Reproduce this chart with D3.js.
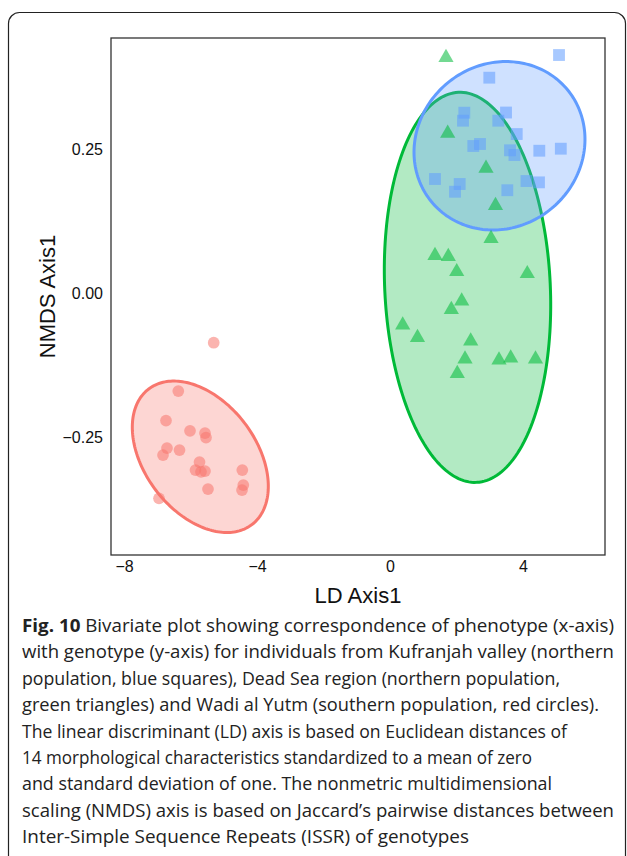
<!DOCTYPE html>
<html>
<head>
<meta charset="utf-8">
<script src="https://cdn.jsdelivr.net/npm/d3@7"></script>
<style>
  html, body { margin: 0; padding: 0; background: #fff; }
  svg { display: block; }
</style>
</head>
<body>
<svg id="chart" width="627" height="856"></svg>
<script>
// ---------- data ----------
const groups = ["Wadi al Yutm", "Dead Sea", "Kufranjah"];
const groupColors = ["#F8766D", "#00BA38", "#619CFF"];
const groupShapes = ["circle", "triangle", "square"];

const redX = [-5.302,-6.367,-6.737,-6.015,-5.564,-5.534,-6.707,-6.827,-6.331,-5.729,-5.850,-5.684,-5.564,-4.442,-4.412,-4.451,-5.474,-6.947];
const redY = [-0.0859,-0.1699,-0.2212,-0.2390,-0.2430,-0.2508,-0.2690,-0.2812,-0.2725,-0.2934,-0.3073,-0.3103,-0.3090,-0.3073,-0.3334,-0.3421,-0.3403,-0.3565];

const greenX = [1.684,1.735,2.887,3.173,3.038,1.353,1.753,2.006,4.129,2.156,1.844,0.382,0.827,2.427,2.256,3.278,3.630,4.376,2.024];
const greenY = [0.4101,0.2783,0.2174,0.1527,0.0953,0.0657,0.0640,0.0376,0.0341,-0.0134,-0.0282,-0.0551,-0.0769,-0.0830,-0.1143,-0.1160,-0.1125,-0.1143,-0.1395];

const blueX = [5.083,2.986,2.235,2.195,3.489,3.257,3.811,2.505,2.707,3.609,3.744,4.490,5.137,1.353,2.096,1.955,3.528,4.105,4.481];
const blueY = [0.4144,0.3750,0.3141,0.3002,0.3144,0.3002,0.2770,0.2562,0.2597,0.2487,0.2405,0.2480,0.2515,0.1988,0.1901,0.1767,0.1793,0.1953,0.1930];

// ellipses (data units): centre, first and second semi-axis vectors
const ellipseCX = [-5.705, 2.331, 3.293];
const ellipseCY = [-0.2842, 0.0104, 0.2566];
const ellipseU1 = [[1.552,-0.1179],[0.2749,-0.3391],[2.045,0.0974]];
const ellipseU2 = [[-1.332,-0.0586],[-2.487,-0.0068],[1.558,-0.1094]];

const xTicks = [-8, -4, 0, 4];
const yTicks = [-0.25, 0.00, 0.25];
const xTitle = "LD Axis1";
const yTitle = "NMDS Axis1";

const captionBold = "Fig. 10";
const captionLines = [
  " Bivariate plot showing correspondence of phenotype (x-axis)",
  "with genotype (y-axis) for individuals from Kufranjah valley (northern",
  "population, blue squares), Dead Sea region (northern population,",
  "green triangles) and Wadi al Yutm (southern population, red circles).",
  "The linear discriminant (LD) axis is based on Euclidean distances of",
  "14 morphological characteristics standardized to a mean of zero",
  "and standard deviation of one. The nonmetric multidimensional",
  "scaling (NMDS) axis is based on Jaccard\u2019s pairwise distances between",
  "Inter-Simple Sequence Repeats (ISSR) of genotypes"
];
const captionWidths = [592, 592, 538, 577, 545, 510, 530, 592, 447];

// ---------- layout ----------
const svg = d3.select("#chart");
const panel = { left: 111, right: 605, top: 38, bottom: 555 };

const x = d3.scaleLinear().domain([-8.391, 6.466]).range([panel.left, panel.right]);
const y = d3.scaleLinear().domain([-0.455, 0.444]).range([panel.bottom, panel.top]);

// outer frame
svg.append("rect")
  .attr("x", 8.5).attr("y", 12.5)
  .attr("width", 617).attr("height", 870)
  .attr("rx", 11).attr("ry", 11)
  .attr("fill", "none").attr("stroke", "#222").attr("stroke-width", 1.2);

const series = [
  { xs: redX, ys: redY },
  { xs: greenX, ys: greenY },
  { xs: blueX, ys: blueY }
];

// ellipses
const line = d3.line().curve(d3.curveLinearClosed);
const gEll = svg.append("g");
groups.forEach((g, i) => {
  const pts = d3.range(0, 200).map(k => {
    const t = k / 200 * 2 * Math.PI;
    const dx = ellipseCX[i] + ellipseU1[i][0] * Math.cos(t) + ellipseU2[i][0] * Math.sin(t);
    const dy = ellipseCY[i] + ellipseU1[i][1] * Math.cos(t) + ellipseU2[i][1] * Math.sin(t);
    return [x(dx), y(dy)];
  });
  gEll.append("path")
    .attr("d", line(pts))
    .attr("fill", groupColors[i]).attr("fill-opacity", 0.3)
    .attr("stroke", groupColors[i]).attr("stroke-width", 3);
});

// points
const symTypes = { circle: d3.symbolCircle, triangle: d3.symbolTriangle, square: d3.symbolSquare };
const symSizes = { circle: 108, triangle: 100, square: 140 };
const gPts = svg.append("g");
series.forEach((s, i) => {
  const sym = d3.symbol().type(symTypes[groupShapes[i]]).size(symSizes[groupShapes[i]]);
  gPts.selectAll(null)
    .data(d3.range(s.xs.length))
    .join("path")
    .attr("d", sym)
    .attr("transform", j => `translate(${x(s.xs[j])},${y(s.ys[j])})`)
    .attr("fill", groupColors[i])
    .attr("fill-opacity", 0.55);
});

// panel border
svg.append("rect")
  .attr("x", panel.left).attr("y", panel.top)
  .attr("width", panel.right - panel.left).attr("height", panel.bottom - panel.top)
  .attr("fill", "none").attr("stroke", "#333").attr("stroke-width", 1.3);

// axes
const font = "'Liberation Sans', Arial, Helvetica, sans-serif";
const xAxis = d3.axisBottom(x).tickValues(xTicks).tickSize(0).tickPadding(6)
  .tickFormat(d => d3.format("d")(d).replace("-", "\u2212"));
const gx = svg.append("g").attr("transform", `translate(0,${panel.bottom})`).call(xAxis);
gx.select(".domain").remove();
gx.selectAll("text").attr("font-family", font).attr("font-size", 16).attr("fill", "#111");

const yAxis = d3.axisLeft(y).tickValues(yTicks).tickSize(0).tickPadding(8)
  .tickFormat(d => d3.format(".2f")(d).replace("-", "\u2212"));
const gy = svg.append("g").attr("transform", `translate(${panel.left},0)`).call(yAxis);
gy.select(".domain").remove();
gy.selectAll("text").attr("font-family", font).attr("font-size", 16).attr("fill", "#111");

// axis titles
svg.append("text")
  .attr("x", (panel.left + panel.right) / 2).attr("y", 603)
  .attr("text-anchor", "middle")
  .attr("font-family", font).attr("font-size", 22).attr("fill", "#111")
  .text(xTitle);

svg.append("text")
  .attr("transform", `translate(55,${(panel.top + panel.bottom) / 2}) rotate(-90)`)
  .attr("text-anchor", "middle")
  .attr("font-family", font).attr("font-size", 22).attr("fill", "#111")
  .text(yTitle);

// caption
const capFont = "'Open Sans', 'Noto Sans', sans-serif";
captionLines.forEach((ln, i) => {
  const t = svg.append("text")
    .attr("x", 22).attr("y", 632 + i * 26.4)
    .attr("font-family", capFont).attr("font-size", 18).attr("fill", "#222")
    .attr("textLength", captionWidths[i]).attr("lengthAdjust", "spacingAndGlyphs");
  if (i === 0) {
    t.append("tspan").attr("font-weight", "bold").text(captionBold);
  }
  t.append("tspan").text(ln);
});
</script>
</body>
</html>
